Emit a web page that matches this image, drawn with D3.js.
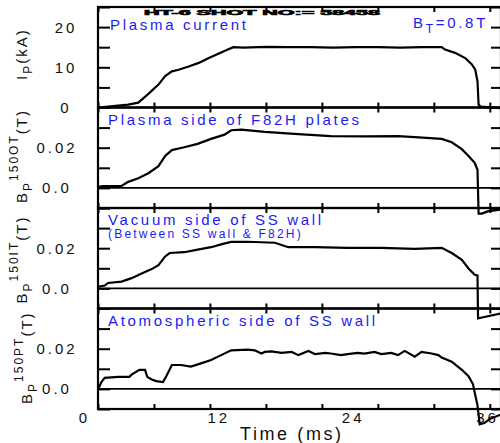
<!DOCTYPE html>
<html>
<head>
<meta charset="utf-8">
<script src="https://cdn.jsdelivr.net/npm/d3@7"></script>
<style>
  body { margin: 0; background: #fff; }
  svg { display: block; font-family: "Liberation Sans", Arial, sans-serif; }
  .titulo { fill: #1a1af5; font-size: 15px; letter-spacing: 2.7px; }
  .subtitulo { fill: #1a1af5; font-size: 12px; letter-spacing: 2.2px; }
  .etiquetaY { fill: #111; font-size: 15px; letter-spacing: 2px; }
  .tickLabel { fill: #111; font-size: 15px; letter-spacing: 3px; }
  .tick line { stroke: #000; stroke-width: 2; }
</style>
</head>
<body>
<div id="grafico"></div>
<script>
// Datos
const tIp = [0, 2.7, 3.6, 4.5, 5.4, 6.0, 6.6, 7.2, 8.1, 9.0, 9.9, 10.7, 11.6, 12.1, 13, 15, 17, 19, 21, 23, 25, 27, 29, 30.7, 31.0, 31.9, 32.8, 33.4, 33.7, 33.9, 34.0, 34.2, 36]
const ip = [0, 0.7, 1.2, 3.4, 5.7, 7.8, 9.0, 9.4, 10.2, 11.1, 12.3, 13.3, 14.4, 15.0, 14.9, 15.1, 15.0, 15.0, 14.9, 15.0, 15.0, 14.9, 15.0, 15.0, 14.4, 13.6, 12.3, 10.7, 9.4, 6.5, 0.7, 0.2, -0.2]

const tOT = [0, 0.45, 2.1, 2.7, 3.6, 4.5, 5.4, 6.0, 6.6, 7.7, 8.9, 10.1, 11.3, 11.9, 12.8, 14.9, 17.9, 20.8, 23.8, 26.8, 28.3, 30.7, 31.6, 32.5, 33.1, 33.65, 33.9, 34.0, 34.3, 34.8, 36]
const bOT = [0.0005, 0.0009, 0.001, 0.003, 0.0048, 0.0073, 0.0108, 0.0159, 0.0188, 0.0202, 0.0219, 0.0244, 0.0265, 0.0287, 0.029, 0.0279, 0.0268, 0.0258, 0.0256, 0.0258, 0.0253, 0.0244, 0.0227, 0.0193, 0.0159, 0.0125, 0.009, -0.0128, -0.0128, -0.0117, -0.0107]

const tIT = [0, 0.6, 0.9, 2.1, 3.0, 3.9, 4.8, 5.4, 6.0, 6.4, 7.7, 8.9, 10.1, 11.0, 11.9, 13.4, 15.8, 17.0, 19.4, 22.3, 25.3, 28.3, 30.7, 31.6, 32.5, 33.1, 33.65, 33.9, 33.95, 34.3, 36]
const bIT = [0.0008, 0.0014, 0.0027, 0.0034, 0.0051, 0.0074, 0.0096, 0.0116, 0.0159, 0.0176, 0.018, 0.0193, 0.0205, 0.0219, 0.0231, 0.0232, 0.0227, 0.0205, 0.0205, 0.0202, 0.0202, 0.0197, 0.0202, 0.0176, 0.0142, 0.0099, 0.0068, 0.0065, -0.0149, -0.0145, -0.0124]

const tPT = [0, 0.15, 0.3, 0.6, 1.8, 2.8, 3.0, 3.7, 4.2, 4.4, 4.8, 5.2, 5.8, 6.1, 6.6, 7.4, 8.3, 9.2, 10.1, 11.0, 11.9, 13.4, 14.0, 14.6, 14.9, 15.5, 16.4, 17.3, 17.9, 18.8, 19.4, 20.3, 20.8, 21.7, 22.3, 23.2, 23.8, 24.7, 25.3, 26.2, 26.8, 27.4, 28.3, 28.9, 29.8, 30.4, 30.7, 31.6, 32.5, 33.1, 33.5, 33.65, 33.9, 34.1, 34.5, 35, 36]
const bPT = [0, 0.0015, 0.0034, 0.0055, 0.006, 0.006, 0.0071, 0.0095, 0.0095, 0.006, 0.0047, 0.0039, 0.0034, 0.0063, 0.0119, 0.0119, 0.0111, 0.0127, 0.0144, 0.0168, 0.0192, 0.0195, 0.0192, 0.0176, 0.0184, 0.0187, 0.0179, 0.0184, 0.0168, 0.0189, 0.0173, 0.0179, 0.0176, 0.0168, 0.0173, 0.0179, 0.0176, 0.0184, 0.0173, 0.0179, 0.0168, 0.0189, 0.016, 0.0184, 0.0176, 0.0168, 0.0156, 0.0135, 0.0095, 0.0063, 0.0023, -0.0018, -0.0082, -0.0176, -0.017, -0.015, -0.0127]

// Etiquetas de ejes
const xTicks = [0, 12, 24, 36]
const ipTicks = [0, 10, 20]
const bpTicks = [0.0, 0.02]
const titulos = ["Plasma current", "Plasma side of F82H plates", "Vacuum side of SS wall", "Atomospheric side of SS wall"]
const subtitulo = "(Between SS wall & F82H)"
const sensores = ["150OT", "150IT", "150PT"]

const anchoTotal = 500
const altoTotal = 443
const margins = { top: 7, left: 98, right: 501, bottom: 409 }
const altoPanel = (margins.bottom - margins.top) / 4

const svg = d3.select("#grafico")
  .append("svg")
  .attr("width", anchoTotal)
  .attr("height", altoTotal)

const x = d3.scaleLinear().domain([0, 36]).range([margins.left, margins.right])

const paneles = [
  { t: tIp, v: ip, dominio: [0, 25], paso: 5, etiquetas: ipTicks, fmt: (d) => d, xLab: 66 },
  { t: tOT, v: bOT, dominio: [-0.01, 0.04], paso: 0.01, etiquetas: bpTicks, fmt: (d) => d === 0 ? "0.0" : d, xLab: 57, sensor: sensores[0] },
  { t: tIT, v: bIT, dominio: [-0.01, 0.04], paso: 0.01, etiquetas: bpTicks, fmt: (d) => d === 0 ? "0.0" : d, xLab: 57, sensor: sensores[1] },
  { t: tPT, v: bPT, dominio: [-0.01, 0.04], paso: 0.01, etiquetas: bpTicks, fmt: (d) => d === 0 ? "0.0" : d, xLab: 57, sensor: sensores[2] },
]

paneles.forEach((p, i) => {
  const top = margins.top + i * altoPanel
  const bottom = top + altoPanel
  const y = d3.scaleLinear().domain(p.dominio).range([bottom, top])
  const g = svg.append("g")

  // marco
  g.append("rect")
    .attr("x", margins.left)
    .attr("y", top)
    .attr("width", margins.right - margins.left)
    .attr("height", altoPanel)
    .attr("fill", "none")
    .attr("stroke", "#000")
    .attr("stroke-width", 2.2)

  // ticks menores
  const yTicks = d3.range(p.dominio[0], p.dominio[1] + 1e-9, p.paso)
  const limpiar = (a) => a.call((s) => s.select(".domain").remove())

  g.append("g")
    .attr("transform", `translate(${margins.left},0)`)
    .call(d3.axisLeft(y).tickValues(yTicks).tickSize(-12).tickFormat(""))
    .call(limpiar)
  g.append("g")
    .attr("transform", `translate(${margins.right},0)`)
    .call(d3.axisRight(y).tickValues(yTicks).tickSize(-10).tickFormat(""))
    .call(limpiar)
  g.append("g")
    .attr("transform", `translate(0,${top})`)
    .call(d3.axisTop(x).ticks(6).tickSize(-5).tickFormat(""))
    .call(limpiar)
  g.append("g")
    .attr("transform", `translate(0,${bottom})`)
    .call(d3.axisBottom(x).ticks(6).tickSize(-5).tickFormat(""))
    .call(limpiar)

  if (i === 3) {
    // etiquetas del eje X
    g.append("g")
      .attr("transform", `translate(0,${bottom})`)
      .call(d3.axisBottom(x).tickValues(xTicks).tickSize(0).tickPadding(3))
      .call(limpiar)
      .selectAll("text")
      .attr("class", "tickLabel")
      .attr("font-size", null)
      .attr("font-family", null)
      .attr("fill", null)
      .attr("dx", -14)
  }

  // etiquetas del eje Y
  g.append("g")
    .selectAll("text")
    .data(p.etiquetas)
    .join("text")
    .attr("class", "tickLabel")
    .attr("x", p.xLab)
    .attr("y", (d) => y(d))
    .attr("dy", "0.36em")
    .attr("text-anchor", "middle")
    .text(p.fmt)

  // linea de cero
  if (i > 0) {
    g.append("line")
      .attr("x1", margins.left)
      .attr("x2", margins.right)
      .attr("y1", y(0))
      .attr("y2", y(0))
      .attr("stroke", "#000")
      .attr("stroke-width", 1.7)
  }

  // curva
  const datos = p.t.map((t, k) => [t, p.v[k]])
  g.append("path")
    .datum(datos)
    .attr("fill", "none")
    .attr("stroke", "#000")
    .attr("stroke-width", 2.2)
    .attr("d", d3.line().x((d) => x(d[0])).y((d) => y(d[1])))

  // titulo del panel
  g.append("text")
    .attr("class", "titulo")
    .attr("x", i === 0 ? 110 : 108)
    .attr("y", i === 0 ? 30 : top + 17)
    .text(titulos[i])

  // etiqueta del eje Y rotada
  const lab = g.append("text")
    .attr("class", "etiquetaY")
    .attr("transform", `translate(${i === 3 ? 32 : 27},${i === 0 ? 80 : bottom - 5}) rotate(-90)`)
  if (i === 0) {
    lab.append("tspan").text("I")
    lab.append("tspan").attr("font-size", 12).attr("dy", 5).text("P")
    lab.append("tspan").attr("dy", -5).text("(kA)")
  } else {
    lab.append("tspan").text("B")
    lab.append("tspan").attr("font-size", 12).attr("dy", 5).text("P")
    lab.append("tspan").attr("font-size", 12).attr("dy", -14).text(p.sensor)
    lab.append("tspan").attr("dy", 9).text("(T)")
  }
})

// subtitulo del tercer panel
svg.append("text")
  .attr("class", "subtitulo")
  .attr("x", 108)
  .attr("y", 238)
  .text(subtitulo)

// campo toroidal
const bt = svg.append("text").attr("class", "titulo").attr("x", 413).attr("y", 28).attr("letter-spacing", 1.5)
bt.append("tspan").text("B")
bt.append("tspan").attr("font-size", 12).attr("dy", 5).text("T")
bt.append("tspan").attr("dy", -5).text("=0.8T")

// encabezado del disparo (aplastado verticalmente)
svg.append("g")
  .attr("transform", "translate(144,15) scale(1,0.6)")
  .append("text")
  .attr("font-size", 11)
  .attr("font-weight", "bold")
  .attr("stroke", "#000")
  .attr("stroke-width", 1)
  .attr("textLength", 236)
  .attr("lengthAdjust", "spacingAndGlyphs")
  .text("HT-6 SHOT NO:= 58458")

// titulo del eje X
svg.append("text")
  .attr("x", 240)
  .attr("y", 440)
  .attr("font-size", 18)
  .attr("letter-spacing", 2.6)
  .attr("fill", "#111")
  .text("Time (ms)")
</script>
</body>
</html>
